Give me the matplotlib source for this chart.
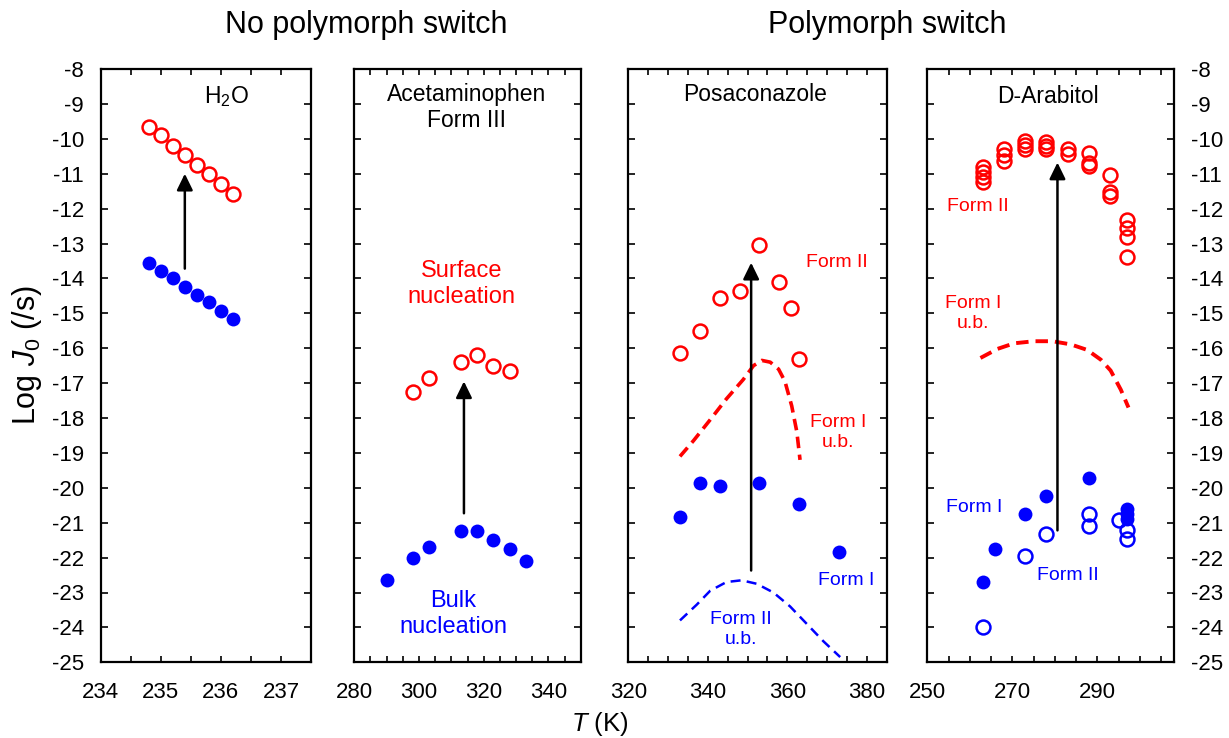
import matplotlib
matplotlib.use("Agg")
import matplotlib.pyplot as plt
from matplotlib.ticker import MultipleLocator, NullFormatter, FuncFormatter

plt.rcParams['font.family'] = ['Liberation Sans', 'DejaVu Sans']
plt.rcParams['mathtext.fontset'] = 'custom'
plt.rcParams['mathtext.rm'] = 'Liberation Sans'
plt.rcParams['mathtext.it'] = 'Liberation Sans:italic'

### data: log J0 vs T for each system
# H2O
h2o_T    = [234.8, 235.0, 235.2, 235.4, 235.6, 235.8, 236.0, 236.2]
h2o_surf = [-9.65, -9.9, -10.2, -10.45, -10.75, -11.0, -11.3, -11.57]
h2o_bulk = [-13.57, -13.78, -14.0, -14.25, -14.47, -14.68, -14.93, -15.15]

# acetaminophen form III
acet_surf_T = [298, 303, 313, 318, 323, 328]
acet_surf   = [-17.25, -16.85, -16.4, -16.2, -16.5, -16.65]
acet_bulk_T = [290, 298, 303, 313, 318, 323, 328, 333]
acet_bulk   = [-22.65, -22.0, -21.7, -21.25, -21.25, -21.5, -21.75, -22.1]

# posaconazole
posa_surf_T = [333, 338, 343, 348, 353, 358, 361, 363]
posa_surf   = [-16.15, -15.5, -14.55, -14.35, -13.05, -14.1, -14.85, -16.3]
posa_bulk_T = [333, 338, 343, 353, 363, 373]
posa_bulk   = [-20.85, -19.85, -19.95, -19.85, -20.45, -21.85]
posa_ub1_T  = [333, 336.4, 340.6, 344.7, 348.9, 351.5, 353.6, 355.7, 357.8, 359.4, 361.1, 362.4, 363.2]
posa_ub1    = [-19.1, -18.65, -18.05, -17.45, -16.9, -16.5, -16.35, -16.4, -16.6, -16.95, -17.65, -18.4, -19.2]
posa_ub2_T  = [333, 337.2, 340.6, 344.7, 348.5, 352.3, 356.5, 360.7, 364.9, 369.1, 373.3]
posa_ub2    = [-23.8, -23.35, -22.95, -22.7, -22.65, -22.75, -23.0, -23.4, -23.9, -24.4, -24.85]

# D-arabitol
arab_surf_T = [263, 263, 263, 263, 268, 268, 268, 273, 273, 273, 278, 278, 278,
               283, 283, 288, 288, 288, 293, 293, 293, 297, 297, 297, 297]
arab_surf   = [-10.8, -10.95, -11.1, -11.25, -10.3, -10.47, -10.63, -10.05, -10.18, -10.3,
               -10.08, -10.2, -10.3, -10.28, -10.44, -10.42, -10.68, -10.77,
               -11.05, -11.52, -11.63, -12.33, -12.56, -12.8, -13.38]
arab_f1_T   = [263, 266, 273, 278, 288, 297, 297, 297]
arab_f1     = [-22.7, -21.75, -20.75, -20.23, -19.73, -20.6, -20.75, -20.9]
arab_f2_T   = [263, 273, 278, 288, 288, 295, 297, 297]
arab_f2     = [-23.98, -21.94, -21.33, -20.75, -21.1, -20.92, -21.2, -21.47]
arab_ub1_T  = [262.5, 266.5, 270.4, 275.1, 279.4, 283.7, 287.6, 290.8, 293.1, 295.5, 297.3]
arab_ub1    = [-16.28, -16.02, -15.86, -15.8, -15.8, -15.89, -16.05, -16.33, -16.64, -17.19, -17.7]

# arrows bulk -> surface (T, from, to)
arrows = [(235.4, -13.72, -11.0), (313.9, -20.73, -16.95),
          (350.9, -22.37, -13.55), (280.6, -21.22, -10.68)]

xlims   = [(234, 237.5), (280, 350), (320, 385), (250, 308)]
xmajor  = [1, 20, 20, 20]
xoffset = [0, 0, 0, 10]
xminor  = [0.5, 5, 5, 5]

RED  = '#ff0000'
BLUE = '#0000ff'

fig = plt.figure(figsize=(12.29, 7.38), dpi=100)
W, H = 1229, 738
boxes = [(100.7, 311), (354.3, 580.7), (628.3, 886.7), (927.3, 1174)]
y_top, y_bot = 69, 662.3

axs = []
for i, (l, r) in enumerate(boxes):
    ax = fig.add_axes([l / W, 1 - y_bot / H, (r - l) / W, (y_bot - y_top) / H])
    ax.set_xlim(*xlims[i])
    ax.set_ylim(-25, -8)
    ax.xaxis.set_major_locator(MultipleLocator(xmajor[i], offset=xoffset[i]))
    ax.xaxis.set_minor_locator(MultipleLocator(xminor[i]))
    ax.yaxis.set_major_locator(MultipleLocator(1))
    ax.tick_params(axis='both', which='both', direction='in', top=True, right=True,
                   width=1.2, labelsize=16)
    ax.tick_params(axis='x', which='both', length=4, pad=14)
    ax.tick_params(axis='y', which='major', length=5, pad=12)
    ax.yaxis.set_major_formatter(NullFormatter())
    ax.yaxis.set_tick_params(labelleft=False, labelright=False)
    for s in ax.spines.values():
        s.set_linewidth(1.6)
    axs.append(ax)

# y labels only on outer panels
axs[0].yaxis.set_tick_params(labelleft=True)
axs[3].yaxis.set_tick_params(labelright=True)
for ax in (axs[0], axs[3]):
    ax.yaxis.set_major_formatter(FuncFormatter(lambda v, p: f"{v:.0f}"))

open_kw   = dict(ls='none', marker='o', ms=10, mfc='none', mew=1.8)
filled_kw = dict(ls='none', marker='o', ms=10, mew=0)

### H2O
ax = axs[0]
ax.plot(h2o_T, h2o_surf, mec=RED, **open_kw)
ax.plot(h2o_T, h2o_bulk, color=BLUE, **filled_kw)
ax.text(236.1, -8.78, r'H$_2$O', fontsize=16.5, ha='center', va='center')

### acetaminophen
ax = axs[1]
ax.plot(acet_surf_T, acet_surf, mec=RED, **open_kw)
ax.plot(acet_bulk_T, acet_bulk, color=BLUE, **filled_kw)
ax.text(314.7, -9.1, 'Acetaminophen\nForm III', fontsize=16.5, ha='center', va='center',
        linespacing=1.2)
ax.text(313.2, -14.15, 'Surface\nnucleation', fontsize=17, color=RED, ha='center',
        va='center', linespacing=1.25)
ax.text(310.6, -23.62, 'Bulk\nnucleation', fontsize=17, color=BLUE, ha='center',
        va='center', linespacing=1.25)

### posaconazole
ax = axs[2]
ax.plot(posa_surf_T, posa_surf, mec=RED, **open_kw)
ax.plot(posa_bulk_T, posa_bulk, color=BLUE, **filled_kw)
ax.plot(posa_ub1_T, posa_ub1, color=RED, ls=(0, (3.2, 1.8)), lw=2.6)
ax.plot(posa_ub2_T, posa_ub2, color=BLUE, ls=(0, (4, 2.5)), lw=1.8)
ax.text(351.9, -8.72, 'Posaconazole', fontsize=16.5, ha='center', va='center')
ax.text(372.4, -13.54, 'Form II', fontsize=14, color=RED, ha='center', va='center')
ax.text(372.7, -18.42, 'Form I\nu.b.', fontsize=14, color=RED, ha='center', va='center',
        linespacing=1.25)
ax.text(374.8, -22.67, 'Form I', fontsize=14, color=BLUE, ha='center', va='center')
ax.text(348.3, -24.05, 'Form II\nu.b.', fontsize=14, color=BLUE, ha='center', va='center',
        linespacing=1.25)

### D-arabitol
ax = axs[3]
ax.plot(arab_surf_T, arab_surf, mec=RED, **open_kw)
ax.plot(arab_f1_T, arab_f1, color=BLUE, **filled_kw)
ax.plot(arab_f2_T, arab_f2, mec=BLUE, **open_kw)
ax.plot(arab_ub1_T, arab_ub1, color=RED, ls=(0, (3.2, 1.8)), lw=2.8)
ax.text(278.4, -8.8, 'D-Arabitol', fontsize=16.5, ha='center', va='center')
ax.text(262.0, -11.95, 'Form II', fontsize=14, color=RED, ha='center', va='center')
ax.text(260.8, -15.0, 'Form I\nu.b.', fontsize=14, color=RED, ha='center', va='center',
        linespacing=1.25)
ax.text(261.1, -20.57, 'Form I', fontsize=14, color=BLUE, ha='center', va='center')
ax.text(283.0, -22.5, 'Form II', fontsize=14, color=BLUE, ha='center', va='center')

for ax, (xa, y0, y1) in zip(axs, arrows):
    ax.annotate('', xy=(xa, y1), xytext=(xa, y0),
                arrowprops=dict(arrowstyle='-|>,head_length=0.45,head_width=0.22',
                                color='k', lw=1.8, mutation_scale=22,
                                shrinkA=0, shrinkB=0))

### titles and axis labels
fig.text(366 / W, 1 - 25 / H, 'No polymorph switch', fontsize=22, ha='center', va='center')
fig.text(887 / W, 1 - 25 / H, 'Polymorph switch', fontsize=22, ha='center', va='center')
fig.text(600 / W, 1 - 724 / H, r'$T$ (K)', fontsize=18.5, ha='center', va='center')
fig.text(27 / W, 1 - 355 / H, r'Log $J_0$ (/s)', fontsize=22, ha='center', va='center',
         rotation=90)

fig.savefig('out.png', dpi=100)
